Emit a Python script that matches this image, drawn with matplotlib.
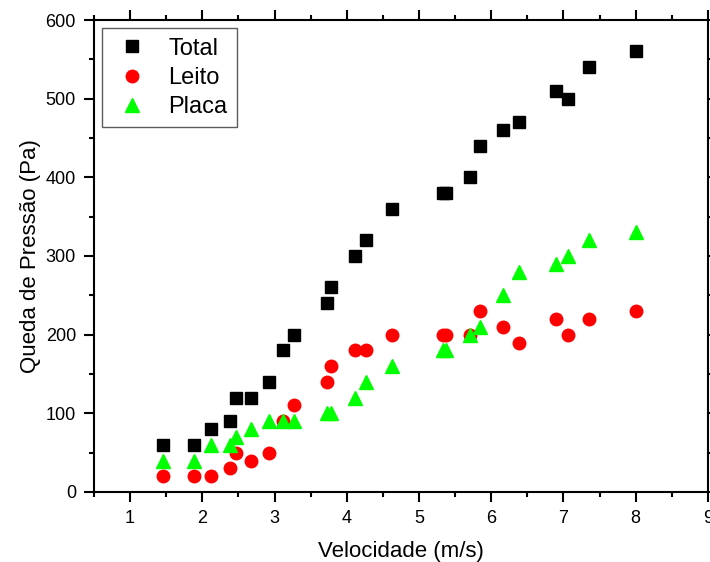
import matplotlib
matplotlib.use("Agg")
import matplotlib.pyplot as plt
from matplotlib.ticker import MultipleLocator

plt.rcParams['font.family'] = ['Liberation Sans', 'DejaVu Sans']

velocidade = [1.45, 1.88, 2.12, 2.39, 2.46, 2.68, 2.93, 3.12, 3.27, 3.73, 3.78, 4.12,
              4.27, 4.63, 5.33, 5.37, 5.70, 5.84, 6.16, 6.39, 6.90, 7.07, 7.35, 8.01]
total = [60, 60, 80, 90, 120, 120, 140, 180, 200, 240, 260, 300,
         320, 360, 380, 380, 400, 440, 460, 470, 510, 500, 540, 560]
leito = [20, 20, 20, 30, 50, 40, 50, 90, 110, 140, 160, 180,
         180, 200, 200, 200, 200, 230, 210, 190, 220, 200, 220, 230]
placa = [40, 40, 60, 60, 70, 80, 90, 90, 90, 100, 100, 120,
         140, 160, 180, 180, 200, 210, 250, 280, 290, 300, 320, 330]

fig = plt.figure(figsize=(7.1, 5.62), dpi=100)
ax = fig.add_axes([0.1324, 0.1246, 0.8646, 0.8398])

ax.plot(velocidade, total, 's', color='black', markersize=8, label='Total')
ax.plot(velocidade, leito, 'o', color='#ff0000', markersize=9, label='Leito')
ax.plot(velocidade, placa, '^', color='#00ff00', markersize=10, label='Placa')

ax.set_xlim(0.5, 9)
ax.set_ylim(0, 600)
ax.xaxis.set_major_locator(MultipleLocator(1))
ax.xaxis.set_minor_locator(MultipleLocator(0.5))
ax.yaxis.set_major_locator(MultipleLocator(100))
ax.yaxis.set_minor_locator(MultipleLocator(50))

for s in ax.spines.values():
    s.set_linewidth(1.5)
ax.tick_params(which='both', direction='out', top=True, right=True, width=1.5)
ax.tick_params(which='major', length=7, labelsize=13, pad=6)
ax.tick_params(which='minor', length=3.5)

ax.set_xlabel('Velocidade (m/s)', fontsize=16, labelpad=10)
ax.set_ylabel('Queda de Pressão (Pa)', fontsize=16, labelpad=3)

leg = ax.legend(loc='upper left', fontsize=17, frameon=True, fancybox=False,
                borderpad=0.4, labelspacing=0.3, handletextpad=0.7,
                borderaxespad=0.35, handlelength=1.7)
leg.get_frame().set_edgecolor('#333333')
leg.get_frame().set_linewidth(1.0)

fig.savefig('out.png', dpi=100)
